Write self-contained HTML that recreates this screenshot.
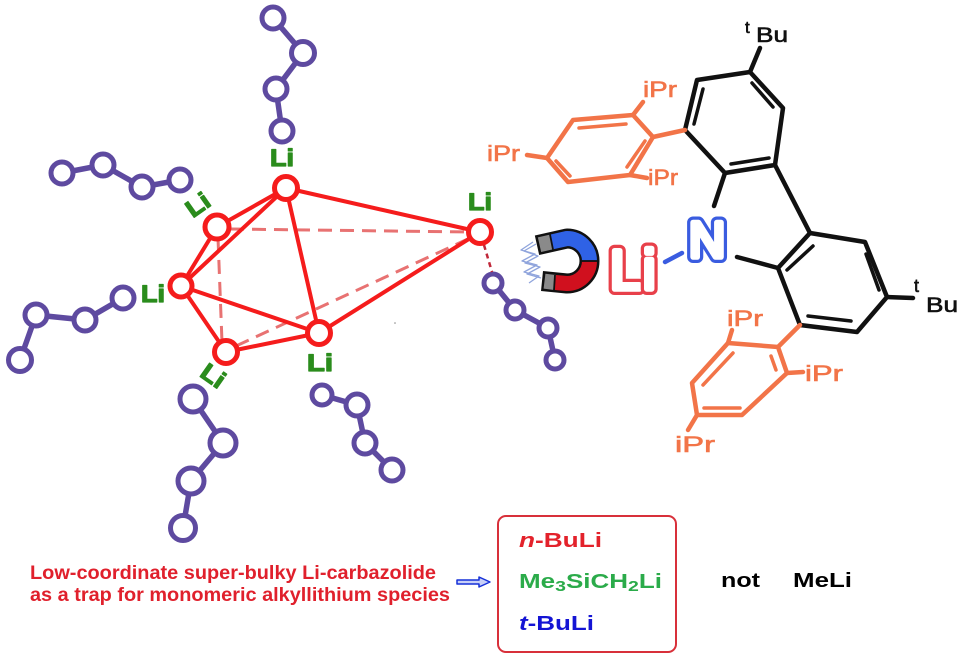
<!DOCTYPE html>
<html><head><meta charset="utf-8"><style>
html,body{margin:0;padding:0;background:#fff;}
svg{display:block;}
</style></head><body>
<svg width="960" height="665" viewBox="0 0 960 665" xmlns="http://www.w3.org/2000/svg" font-family="'Liberation Sans', Arial, sans-serif">
<rect width="960" height="665" fill="#fff"/>

<!-- purple chains bonds -->
<g stroke="#5e4aa0" stroke-width="5.5" stroke-linecap="round" fill="none">
<polyline points="273,18 303,53 276,89 282,131"/>
<polyline points="62,173 103,165 142,187 180,180"/>
<polyline points="20,360 36,315 85,320 123,298"/>
<polyline points="193,399 223,443 191,481 183,528"/>
<polyline points="322,395 357,405 365,443 392,470"/>
<polyline points="493,283 515,310 548,328 555,360"/>
</g>
<g stroke="#5e4aa0" stroke-width="5" fill="#fff">
<circle cx="273" cy="18" r="11"/><circle cx="303" cy="53" r="11.5"/><circle cx="276" cy="89" r="11"/><circle cx="282" cy="131" r="11"/>
<circle cx="62" cy="173" r="11"/><circle cx="103" cy="165" r="11"/><circle cx="142" cy="187" r="11"/><circle cx="180" cy="180" r="11"/>
<circle cx="20" cy="360" r="11.5"/><circle cx="36" cy="315" r="11"/><circle cx="85" cy="320" r="11"/><circle cx="123" cy="298" r="11"/>
<circle cx="193" cy="399" r="13"/><circle cx="223" cy="443" r="13"/><circle cx="191" cy="481" r="13"/><circle cx="183" cy="528" r="12.5"/>
<circle cx="322" cy="395" r="10"/><circle cx="357" cy="405" r="11"/><circle cx="365" cy="443" r="11"/><circle cx="392" cy="470" r="11"/>
<circle cx="493" cy="283" r="9"/><circle cx="515" cy="310" r="9"/><circle cx="548" cy="328" r="9"/><circle cx="555" cy="360" r="9"/>
</g>

<!-- dashed cluster edges -->
<g stroke="#e87272" stroke-width="3" stroke-dasharray="14 8" fill="none">
<line x1="230" y1="229" x2="470" y2="232"/>
<line x1="236" y1="346" x2="470" y2="238"/>
<line x1="218" y1="238" x2="222" y2="342"/>
</g>
<line x1="484" y1="245" x2="492" y2="272" stroke="#c0283a" stroke-width="2.5" stroke-dasharray="5 4"/>

<!-- solid cluster edges -->
<g stroke="#f51c1c" stroke-width="4" stroke-linecap="round" fill="none">
<line x1="286" y1="188" x2="217" y2="227"/>
<line x1="286" y1="188" x2="181" y2="286"/>
<line x1="286" y1="188" x2="319" y2="333"/>
<line x1="286" y1="188" x2="480" y2="232"/>
<line x1="217" y1="227" x2="181" y2="286"/>
<line x1="181" y1="286" x2="319" y2="333"/>
<line x1="181" y1="286" x2="226" y2="352"/>
<line x1="226" y1="352" x2="319" y2="333"/>
<line x1="319" y1="333" x2="480" y2="232"/>
</g>
<g stroke="#f51c1c" stroke-width="5" fill="#fff">
<circle cx="286" cy="188" r="11.5"/>
<circle cx="217" cy="227" r="12"/>
<circle cx="181" cy="286" r="11"/>
<circle cx="226" cy="352" r="11.5"/>
<circle cx="319" cy="333" r="11.5"/>
<circle cx="480" cy="232" r="11.5"/>
</g>

<!-- green Li labels -->
<g fill="#2a8c1c" stroke="#2a8c1c" stroke-width="1.2" stroke-linejoin="round" font-weight="bold" font-size="24" text-anchor="middle">
<text x="282" y="166" textLength="24" lengthAdjust="spacingAndGlyphs">Li</text>
<text x="0" y="8" textLength="24" lengthAdjust="spacingAndGlyphs" transform="translate(198,205) rotate(-35)">Li</text>
<text x="153" y="302" textLength="24" lengthAdjust="spacingAndGlyphs">Li</text>
<text x="0" y="8" textLength="24" lengthAdjust="spacingAndGlyphs" transform="translate(213,376) rotate(35)">Li</text>
<text x="320" y="371" textLength="26" lengthAdjust="spacingAndGlyphs">Li</text>
<text x="480" y="210" textLength="24" lengthAdjust="spacingAndGlyphs">Li</text>
</g>
<circle cx="395" cy="323" r="0.8" fill="#888"/>

<!-- magnet -->
<g fill="none" stroke-linejoin="round">
<path d="M537,245.2 L567,238.5 A22.5,22.5 0 0 1 567,283.5 L542,281" stroke="#111" stroke-width="20"/>
<path d="M550,242.3 L567,238.5 A22.5,22.5 0 0 1 589.5,261" stroke="#2f62e6" stroke-width="15"/>
<path d="M589.5,261 A22.5,22.5 0 0 1 567,283.5 L554,282.4" stroke="#d0101e" stroke-width="15"/>
<path d="M539.5,244.7 L551,242.1" stroke="#8a8a8a" stroke-width="15"/>
<path d="M544.5,281.2 L555,282.5" stroke="#8a8a8a" stroke-width="15"/>
<line x1="582" y1="261" x2="598" y2="261" stroke="#111" stroke-width="1.8"/>
<line x1="550" y1="234.5" x2="553" y2="249.5" stroke="#111" stroke-width="1.8"/>
<line x1="555" y1="275" x2="554" y2="290" stroke="#111" stroke-width="1.8"/>
</g>
<g stroke="#8fa4dc" stroke-width="1.3" fill="none" stroke-linejoin="round">
<polyline points="533,242 521,250 535,254 522,261 537,265 524,272 539,276 529,283"/>
<polyline points="536,244 524,251 538,256 525,263 540,267 527,274 541,278"/>
</g>

<!-- Li-N (hollow tube letters) -->
<g font-size="56" stroke-linejoin="round" stroke-linecap="round">
<text x="610" y="289" fill="#fff" stroke="#e8404a" stroke-width="12">L</text>
<text x="610" y="289" fill="#fff" stroke="#fff" stroke-width="5.5">L</text>
<text x="643" y="289" fill="#fff" stroke="#e8404a" stroke-width="12">i</text>
<text x="643" y="289" fill="#fff" stroke="#fff" stroke-width="5.5">i</text>
</g>
<line x1="665" y1="262" x2="682" y2="253" stroke="#3a5ce0" stroke-width="4.5" stroke-linecap="round"/>
<g font-size="50" stroke-linejoin="round">
<text x="689" y="257" fill="#fff" stroke="#3a5ce0" stroke-width="12">N</text>
<text x="689" y="257" fill="#fff" stroke="#fff" stroke-width="5.5">N</text>
</g>

<!-- black carbazole -->
<g stroke="#111" stroke-width="4.5" stroke-linecap="round" stroke-linejoin="round" fill="none">
<polygon points="697,80 750,72 783,108 775,165 725,173 685,130"/>
<line x1="750" y1="72" x2="760" y2="48"/>
<line x1="725" y1="173" x2="714" y2="206"/>
<line x1="775" y1="165" x2="810" y2="233"/>
<polygon points="810,233 865,242 887,297 857,332 800,325 778,268"/>
<line x1="737" y1="257" x2="778" y2="268"/>
<line x1="887" y1="297" x2="913" y2="298"/>
</g>
<g stroke="#111" stroke-width="3.5" stroke-linecap="round" fill="none">
<line x1="703" y1="89" x2="694" y2="124"/>
<line x1="752" y1="83" x2="773" y2="107"/>
<line x1="731" y1="164" x2="769" y2="158"/>
<line x1="813" y1="246" x2="787" y2="270"/>
<line x1="866" y1="254" x2="879" y2="290"/>
<line x1="808" y1="316" x2="851" y2="321"/>
</g>
<g fill="#111" stroke="#111" stroke-width="0.6" font-size="21">
<text x="745" y="33" font-size="17">t</text>
<text x="756" y="42" textLength="32" lengthAdjust="spacingAndGlyphs">Bu</text>
<text x="914" y="292" font-size="18">t</text>
<text x="926" y="312" textLength="32" lengthAdjust="spacingAndGlyphs">Bu</text>
</g>

<!-- orange aryls -->
<g stroke="#f27448" stroke-width="4.5" stroke-linecap="round" stroke-linejoin="round" fill="none">
<polygon points="633,115 573,120 547,158 568,182 630,175 653,137"/>
<line x1="653" y1="137" x2="685" y2="130"/>
<line x1="633" y1="115" x2="643" y2="102"/>
<line x1="547" y1="158" x2="527" y2="155"/>
<line x1="630" y1="175" x2="647" y2="178"/>
<polygon points="778,347 728,343 692,383 697,415 742,415 787,373"/>
<line x1="800" y1="325" x2="778" y2="347"/>
<line x1="728" y1="343" x2="732" y2="330"/>
<line x1="787" y1="373" x2="803" y2="372"/>
<line x1="697" y1="415" x2="688" y2="430"/>
</g>
<g stroke="#f27448" stroke-width="3.5" stroke-linecap="round" fill="none">
<line x1="579" y1="128" x2="626" y2="124"/>
<line x1="645" y1="141" x2="627" y2="167"/>
<line x1="556" y1="161" x2="570" y2="176"/>
<line x1="771" y1="356" x2="776" y2="370"/>
<line x1="733" y1="353" x2="703" y2="385"/>
<line x1="704" y1="408" x2="740" y2="408"/>
</g>
<g fill="#f27448" stroke="#f27448" stroke-width="0.6" font-size="22">
<text x="643" y="97" textLength="34" lengthAdjust="spacingAndGlyphs">iPr</text>
<text x="487" y="161" textLength="33" lengthAdjust="spacingAndGlyphs">iPr</text>
<text x="648" y="185" textLength="30" lengthAdjust="spacingAndGlyphs">iPr</text>
<text x="727" y="326" textLength="36" lengthAdjust="spacingAndGlyphs">iPr</text>
<text x="805" y="381" textLength="38" lengthAdjust="spacingAndGlyphs">iPr</text>
<text x="675" y="452" textLength="40" lengthAdjust="spacingAndGlyphs">iPr</text>
</g>

<!-- bottom text -->
<g fill="#e0202c" font-weight="bold" font-size="19">
<text x="30" y="579" textLength="406" lengthAdjust="spacingAndGlyphs">Low-coordinate super-bulky Li-carbazolide</text>
<text x="30" y="601" textLength="420" lengthAdjust="spacingAndGlyphs">as a trap for monomeric alkyllithium species</text>
</g>
<path d="M457,580 L479,580 L479,577 L490,582 L479,587 L479,584 L457,584 Z" fill="#c8d0f8" stroke="#1530d8" stroke-width="1.5" stroke-linejoin="round"/>
<rect x="498" y="516" width="178" height="136" rx="8" fill="none" stroke="#d8303a" stroke-width="2"/>
<g font-weight="bold" font-size="20">
<text x="519" y="547" fill="#e3222b" textLength="83" lengthAdjust="spacingAndGlyphs"><tspan font-style="italic">n</tspan>-BuLi</text>
<text x="519" y="588" fill="#2bab4a" textLength="143" lengthAdjust="spacingAndGlyphs">Me<tspan font-size="15" dy="3">3</tspan><tspan dy="-3">SiCH</tspan><tspan font-size="15" dy="3">2</tspan><tspan dy="-3">Li</tspan></text>
<text x="519" y="630" fill="#1414d4" textLength="75" lengthAdjust="spacingAndGlyphs"><tspan font-style="italic">t</tspan>-BuLi</text>
<text x="721" y="587" fill="#000" textLength="39" lengthAdjust="spacingAndGlyphs">not</text>
<text x="793" y="587" fill="#000" textLength="59" lengthAdjust="spacingAndGlyphs">MeLi</text>
</g>
</svg>
</body></html>
